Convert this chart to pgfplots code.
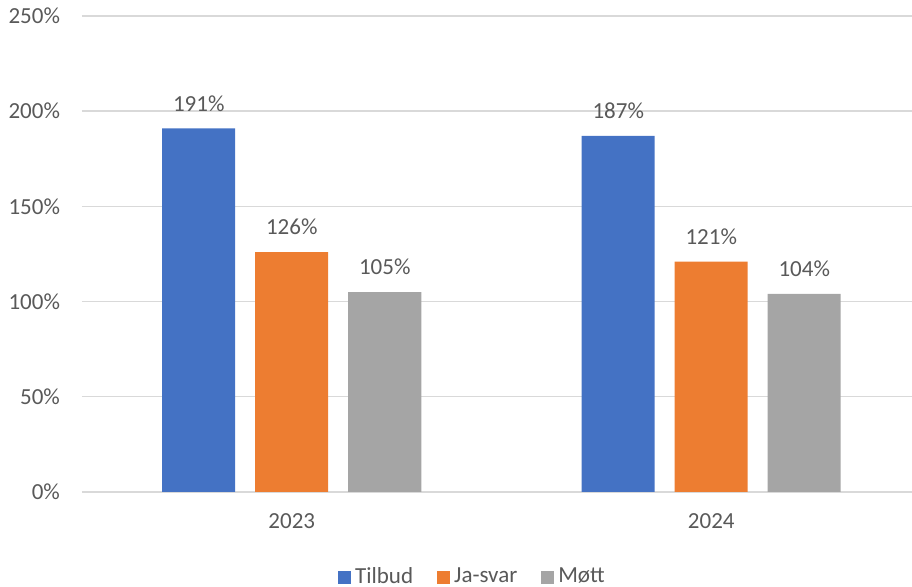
\documentclass[border=0pt]{standalone}
\usepackage{fontspec}
\setmainfont{Carlito}
\usepackage{pgfplots}
\pgfplotsset{compat=1.18}
\definecolor{cblue}{HTML}{4472C4}
\definecolor{corange}{HTML}{ED7D31}
\definecolor{cgrey}{HTML}{A5A5A5}
\definecolor{ctext}{HTML}{595959}
\definecolor{cgrid}{HTML}{D9D9D9}
\begin{document}
\begin{tikzpicture}
\useasboundingbox (0,0) rectangle (456pt,293.5pt);
\begin{axis}[
  at={(41pt,47.5pt)}, anchor=south west,
  scale only axis, width=419.5pt, height=238pt,
  xmin=-0.5, xmax=1.5, ymin=0, ymax=250,
  axis line style={draw=none},
  major tick length=0pt,
  ytick={0,50,...,250},
  yticklabel={\pgfmathprintnumber{\tick}\%},
  ymajorgrids, grid style={cgrid, line width=0.7pt},
  xtick={0,1}, xticklabels={2023,2024},
  font=\fontsize{11.5pt}{13pt}\selectfont,
  tick label style={font=\fontsize{11.5pt}{13pt}\selectfont, text=ctext},
  /pgf/number format/assume math mode=true,
  yticklabel style={xshift=-7.5pt},
  xticklabel style={yshift=-7.5pt},
  ybar, bar width=36.5pt,
  nodes near coords={\pgfmathprintnumber{\pgfplotspointmeta}\%},
  every node near coord/.append style={font=\fontsize{11.5pt}{13pt}\selectfont, text=ctext, yshift=5pt},
  legend columns=3,
  legend style={draw=none, at={(0.4666,-0.1786)}, anchor=center,
    font=\fontsize{11.5pt}{13pt}\selectfont, text=ctext,
    /tikz/every even column/.append style={column sep=10pt}},
  legend image code/.code={\fill[#1] (0pt,-3.25pt) rectangle (6.5pt,3.25pt);},
]
\addplot[fill=cblue, draw=none, bar shift=-46.5pt] coordinates {(0,191) (1,187)};
\addplot[fill=corange, draw=none, bar shift=0pt] coordinates {(0,126) (1,121)};
\addplot[fill=cgrey, draw=none, bar shift=46.5pt] coordinates {(0,105) (1,104)};
\legend{Tilbud, Ja-svar, Møtt}
\end{axis}
\end{tikzpicture}
\end{document}
